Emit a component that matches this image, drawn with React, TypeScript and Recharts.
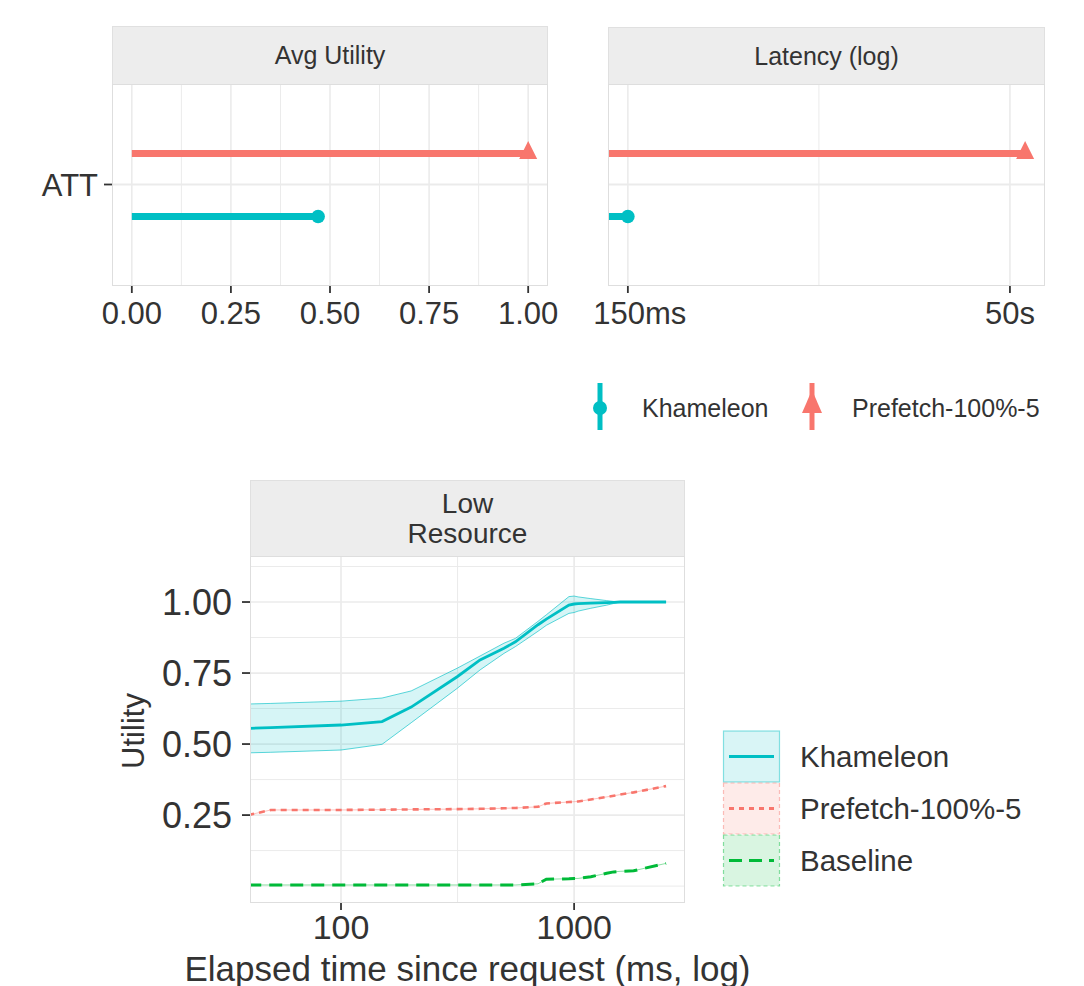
import React from "react";
import {
  ComposedChart,
  Bar,
  Line,
  Area,
  XAxis,
  YAxis,
  CartesianGrid,
  ReferenceLine,
} from "recharts";

// ---- data ----
const methods = ["Khameleon", "Prefetch-100%-5"];
const categories = ["ATT"];
const avgUtility = [0.47, 1.0]; // Khameleon, Prefetch
const latencySec = [0.15, 63]; // Khameleon, Prefetch

const utilTicks = [0, 0.25, 0.5, 0.75, 1];
const utilMinor = [0.125, 0.375, 0.625, 0.875];
const latTicks = [0.15, 50];
const latMinor = [2.74];

const elapsedMs = [40, 50, 100, 150, 200, 315, 395, 500, 560, 700, 760, 950, 1000, 1040, 1180, 1380, 1480, 1575, 1800, 2480];
const khamMean = [0.555, 0.558, 0.567, 0.579, 0.63, 0.737, 0.796, 0.837, 0.86, 0.92, 0.94, 0.989, 0.993, 0.994, 0.996, 0.998, 0.999, 1.0, 1.0, 1.0];
const khamHigh = [0.641, 0.643, 0.651, 0.662, 0.687, 0.767, 0.81, 0.855, 0.872, 0.932, 0.955, 1.019, 1.021, 1.018, 1.012, 1.005, 1.002, 1.0, 1.0, 1.0];
const khamLow = [0.469, 0.471, 0.479, 0.499, 0.575, 0.696, 0.761, 0.819, 0.843, 0.897, 0.918, 0.96, 0.963, 0.968, 0.978, 0.989, 0.995, 1.0, 1.0, 1.0];
const prefetchUtil = [0.25, 0.268, 0.268, 0.269, 0.27, 0.271, 0.272, 0.274, 0.275, 0.279, 0.291, 0.296, 0.297, 0.298, 0.305, 0.314, 0.318, 0.322, 0.33, 0.352];
const baselineUtil = [0.004, 0.004, 0.004, 0.004, 0.004, 0.004, 0.004, 0.004, 0.004, 0.008, 0.024, 0.026, 0.027, 0.027, 0.033, 0.045, 0.05, 0.052, 0.054, 0.08];

const lowLegend = ["Khameleon", "Prefetch-100%-5", "Baseline"];
const yTicks = [0.25, 0.5, 0.75, 1];
const yMinor = [0, 0.125, 0.375, 0.625, 0.875, 1.125];
const xTicks = [100, 1000];
const xMinor = [316.2];

// ---- style ----
const FONT = "'Liberation Sans', Arial, sans-serif";
const TEAL = "#00BFC4";
const RED = "#F8766D";
const GREEN = "#00BA38";
const GRID = "#EBEBEB";
const INK = "#333333";

// ggplot-like 5% expansion
const expand = (lo: number, hi: number) => {
  const d = (hi - lo) * 0.05;
  return [lo - d, hi + d];
};
const expandLog = (lo: number, hi: number) => {
  const a = Math.log10(lo);
  const b = Math.log10(hi);
  const d = (b - a) * 0.05;
  return [Math.pow(10, a - d), Math.pow(10, b + d)];
};

const utilDomain = expand(0, Math.max(...avgUtility));
const latDomain = expandLog(Math.min(...latencySec), Math.max(...latencySec));

const utilRows = categories.map((cat) => ({
  cat,
  kham: avgUtility[0],
  pref: avgUtility[1],
}));
const latRows = categories.map((cat) => ({
  cat,
  kham: [latDomain[0], latencySec[0]],
  pref: [latDomain[0], latencySec[1]],
}));
const lowRows = elapsedMs.map((t, i) => ({
  t,
  mean: khamMean[i],
  band: [khamLow[i], khamHigh[i]],
  pref: prefetchUtil[i],
  base: baselineUtil[i],
}));

const lollipop = (marker: "circle" | "triangle") => (props: any) => {
  const { x, y, width, height, fill } = props;
  const cy = y + height / 2;
  const ex = x + width;
  return (
    <g>
      <rect x={x} y={y} width={Math.max(width, 0)} height={height} fill={fill} />
      {marker === "circle" ? (
        <circle cx={ex} cy={cy} r={6.8} fill={fill} />
      ) : (
        <polygon points={`${ex},${cy - 12.5} ${ex - 9},${cy + 5.5} ${ex + 9},${cy + 5.5}`} fill={fill} />
      )}
    </g>
  );
};

const latFmt = (v: number) => (v < 1 ? `${Math.round(v * 1000)}ms` : `${v}s`);

const LatTick = (props: any) => {
  const { x, y, payload, index } = props;
  return (
    <text x={x + (index === 0 ? 12 : 0)} y={y} dy="0.71em" textAnchor="middle" fontSize={31} fill={INK} fontFamily={FONT}>
      {latFmt(payload.value)}
    </text>
  );
};

const Strip = ({ left, top, width, height, lines, size, lh }: any) => (
  <div
    style={{
      position: "absolute",
      left,
      top,
      width,
      height,
      boxSizing: "border-box",
      background: "#EDEDED",
      border: "1.5px solid #E0E0E0",
      display: "flex",
      flexDirection: "column",
      alignItems: "center",
      justifyContent: "center",
      fontSize: size,
      lineHeight: `${lh ?? size}px`,
      color: INK,
    }}
  >
    {lines.map((l: string) => (
      <div key={l}>{l}</div>
    ))}
  </div>
);

const Frame = ({ left, top, width, height }: any) => (
  <div
    style={{
      position: "absolute",
      left,
      top,
      width,
      height,
      boxSizing: "border-box",
      border: "1.5px solid #DEDEDE",
      pointerEvents: "none",
    }}
  />
);

const tickLine = { stroke: INK, strokeWidth: 1.8 };

export default function App() {
  return (
    <div
      style={{
        position: "absolute",
        left: 0,
        top: 0,
        width: 1084,
        height: 986,
        background: "#fff",
        fontFamily: FONT,
        color: INK,
        overflow: "hidden",
      }}
    >
      {/* Avg Utility */}
      <div style={{ position: "absolute", left: 0, top: 84 }}>
        <ComposedChart
          layout="vertical"
          width={560}
          height={260}
          data={utilRows}
          margin={{ top: 0, right: 12, bottom: 0, left: 0 }}
          barSize={7}
          barGap={56}
        >
          <CartesianGrid horizontal={false} verticalValues={utilMinor} stroke={GRID} strokeWidth={1} />
          <CartesianGrid horizontal={false} verticalValues={utilTicks} stroke={GRID} strokeWidth={1.6} />
          <ReferenceLine y="ATT" stroke={GRID} strokeWidth={1.8} />
          <XAxis
            type="number"
            domain={utilDomain}
            ticks={utilTicks}
            tickFormatter={(v: number) => v.toFixed(2)}
            axisLine={false}
            tickLine={tickLine}
            tickSize={8}
            tickMargin={9}
            height={59}
            interval={0}
            tick={{ fontSize: 31, fill: INK, fontFamily: FONT }}
          />
          <YAxis
            type="category"
            dataKey="cat"
            width={112}
            axisLine={false}
            tickLine={tickLine}
            tickSize={8}
            tickMargin={6}
            tick={{ fontSize: 31, fill: INK, fontFamily: FONT }}
          />
          <Bar dataKey="pref" fill={RED} shape={lollipop("triangle")} isAnimationActive={false} />
          <Bar dataKey="kham" fill={TEAL} shape={lollipop("circle")} isAnimationActive={false} />
        </ComposedChart>
      </div>

      {/* Latency (log) */}
      <div style={{ position: "absolute", left: 560, top: 84 }}>
        <ComposedChart
          layout="vertical"
          width={500}
          height={260}
          data={latRows}
          margin={{ top: 0, right: 15, bottom: 0, left: 48 }}
          barSize={7}
          barGap={56}
        >
          <CartesianGrid horizontal={false} verticalValues={latMinor} stroke={GRID} strokeWidth={1} />
          <CartesianGrid horizontal={false} verticalValues={latTicks} stroke={GRID} strokeWidth={1.6} />
          <ReferenceLine y="ATT" stroke={GRID} strokeWidth={1.8} />
          <XAxis
            type="number"
            scale="log"
            domain={latDomain}
            allowDataOverflow
            ticks={latTicks}
            axisLine={false}
            tickLine={tickLine}
            tickSize={8}
            tickMargin={9}
            height={59}
            interval={0}
            tick={<LatTick />}
          />
          <YAxis type="category" dataKey="cat" hide />
          <Bar dataKey="pref" fill={RED} shape={lollipop("triangle")} isAnimationActive={false} />
          <Bar dataKey="kham" fill={TEAL} shape={lollipop("circle")} isAnimationActive={false} />
        </ComposedChart>
      </div>

      <Strip left={112} top={26} width={436} height={59} lines={["Avg Utility"]} size={25} />
      <Strip left={608} top={27} width={437} height={58} lines={["Latency (log)"]} size={25} />
      <Frame left={112} top={84} width={436} height={202} />
      <Frame left={608} top={84} width={437} height={202} />

      {/* top legend */}
      <svg style={{ position: "absolute", left: 580, top: 370 }} width={480} height={70}>
        <line x1={20} x2={20} y1={13} y2={60} stroke={TEAL} strokeWidth={5} />
        <circle cx={20} cy={38} r={7} fill={TEAL} />
        <text x={62} y={38} dominantBaseline="central" fontSize={25} fill={INK} fontFamily={FONT}>
          {methods[0]}
        </text>
        <line x1={232} x2={232} y1={13} y2={60} stroke={RED} strokeWidth={5} />
        <polygon points={`232,20 222,43 242,43`} fill={RED} />
        <text x={272} y={38} dominantBaseline="central" fontSize={25} fill={INK} fontFamily={FONT}>
          {methods[1]}
        </text>
      </svg>

      {/* Low Resource */}
      <div style={{ position: "absolute", left: 0, top: 556 }}>
        <ComposedChart
          width={860}
          height={430}
          data={lowRows}
          margin={{ top: 0, right: 175, bottom: 0, left: 0 }}
        >
          <CartesianGrid horizontalValues={yMinor} verticalValues={xMinor} stroke={GRID} strokeWidth={1} />
          <CartesianGrid horizontalValues={yTicks} verticalValues={xTicks} stroke={GRID} strokeWidth={1.7} />
          <XAxis
            type="number"
            dataKey="t"
            scale="log"
            domain={[40.7, 2990]}
            allowDataOverflow
            ticks={xTicks}
            interval={0}
            axisLine={false}
            tickLine={tickLine}
            tickSize={8}
            tickMargin={5}
            height={84}
            tick={{ fontSize: 34, fill: INK, fontFamily: FONT }}
            label={(p: any) => {
              const vb = p.viewBox;
              return (
                <text
                  x={vb.x + vb.width / 2}
                  y={vb.y + 66}
                  textAnchor="middle"
                  dominantBaseline="central"
                  fontSize={35}
                  fill={INK}
                  fontFamily={FONT}
                >
                  Elapsed time since request (ms, log)
                </text>
              );
            }}
          />
          <YAxis
            type="number"
            domain={[-0.056, 1.162]}
            allowDataOverflow
            ticks={yTicks}
            interval={0}
            tickFormatter={(v: number) => v.toFixed(2)}
            width={250}
            axisLine={false}
            tickLine={tickLine}
            tickSize={8}
            tickMargin={10}
            tick={{ fontSize: 36, fill: INK, fontFamily: FONT }}
            label={(p: any) => {
              const vb = p.viewBox;
              const cx = vb.x + 133;
              const cy = vb.y + vb.height / 2 + 2;
              return (
                <text
                  x={cx}
                  y={cy}
                  transform={`rotate(-90 ${cx} ${cy})`}
                  textAnchor="middle"
                  dominantBaseline="central"
                  fontSize={31}
                  fill={INK}
                  fontFamily={FONT}
                >
                  Utility
                </text>
              );
            }}
          />
          <Area
            dataKey="band"
            type="linear"
            fill={TEAL}
            fillOpacity={0.16}
            stroke={TEAL}
            strokeOpacity={0.8}
            strokeWidth={0.8}
            isAnimationActive={false}
          />
          <Line dataKey="pref" type="linear" stroke={RED} strokeOpacity={0.45} strokeWidth={1} dot={false} isAnimationActive={false} />
          <Line dataKey="base" type="linear" stroke={GREEN} strokeOpacity={0.45} strokeWidth={1} dot={false} isAnimationActive={false} />
          <Line dataKey="mean" type="linear" stroke={TEAL} strokeWidth={2.8} dot={false} isAnimationActive={false} />
          <Line dataKey="pref" type="linear" stroke={RED} strokeWidth={2.6} strokeDasharray="6 5" dot={false} isAnimationActive={false} />
          <Line dataKey="base" type="linear" stroke={GREEN} strokeWidth={3} strokeDasharray="13 8" dot={false} isAnimationActive={false} />
        </ComposedChart>
      </div>

      <Strip left={250} top={480} width={435} height={77} lines={["Low", "Resource"]} size={28} lh={29.5} />
      <Frame left={250} top={556} width={435} height={347} />

      {/* bottom legend */}
      <svg style={{ position: "absolute", left: 715, top: 720 }} width={360} height={180}>
        {lowLegend.map((name, i) => {
          const color = [TEAL, RED, GREEN][i];
          const y0 = 11 + i * 52;
          const dash = ["", "5 5", "13 7"][i];
          return (
            <g key={name}>
              <rect
                x={8.5}
                y={y0}
                width={56}
                height={51}
                fill={color}
                fillOpacity={0.15}
                stroke={color}
                strokeOpacity={0.45}
                strokeWidth={1.2}
                strokeDasharray={i === 0 ? undefined : "4 3"}
              />
              <line
                x1={14}
                x2={59}
                y1={y0 + 25.5}
                y2={y0 + 25.5}
                stroke={color}
                strokeWidth={3}
                strokeDasharray={dash || undefined}
              />
              <text x={85} y={y0 + 25.5} dominantBaseline="central" fontSize={29.5} fill={INK} fontFamily={FONT}>
                {name}
              </text>
            </g>
          );
        })}
      </svg>
    </div>
  );
}
